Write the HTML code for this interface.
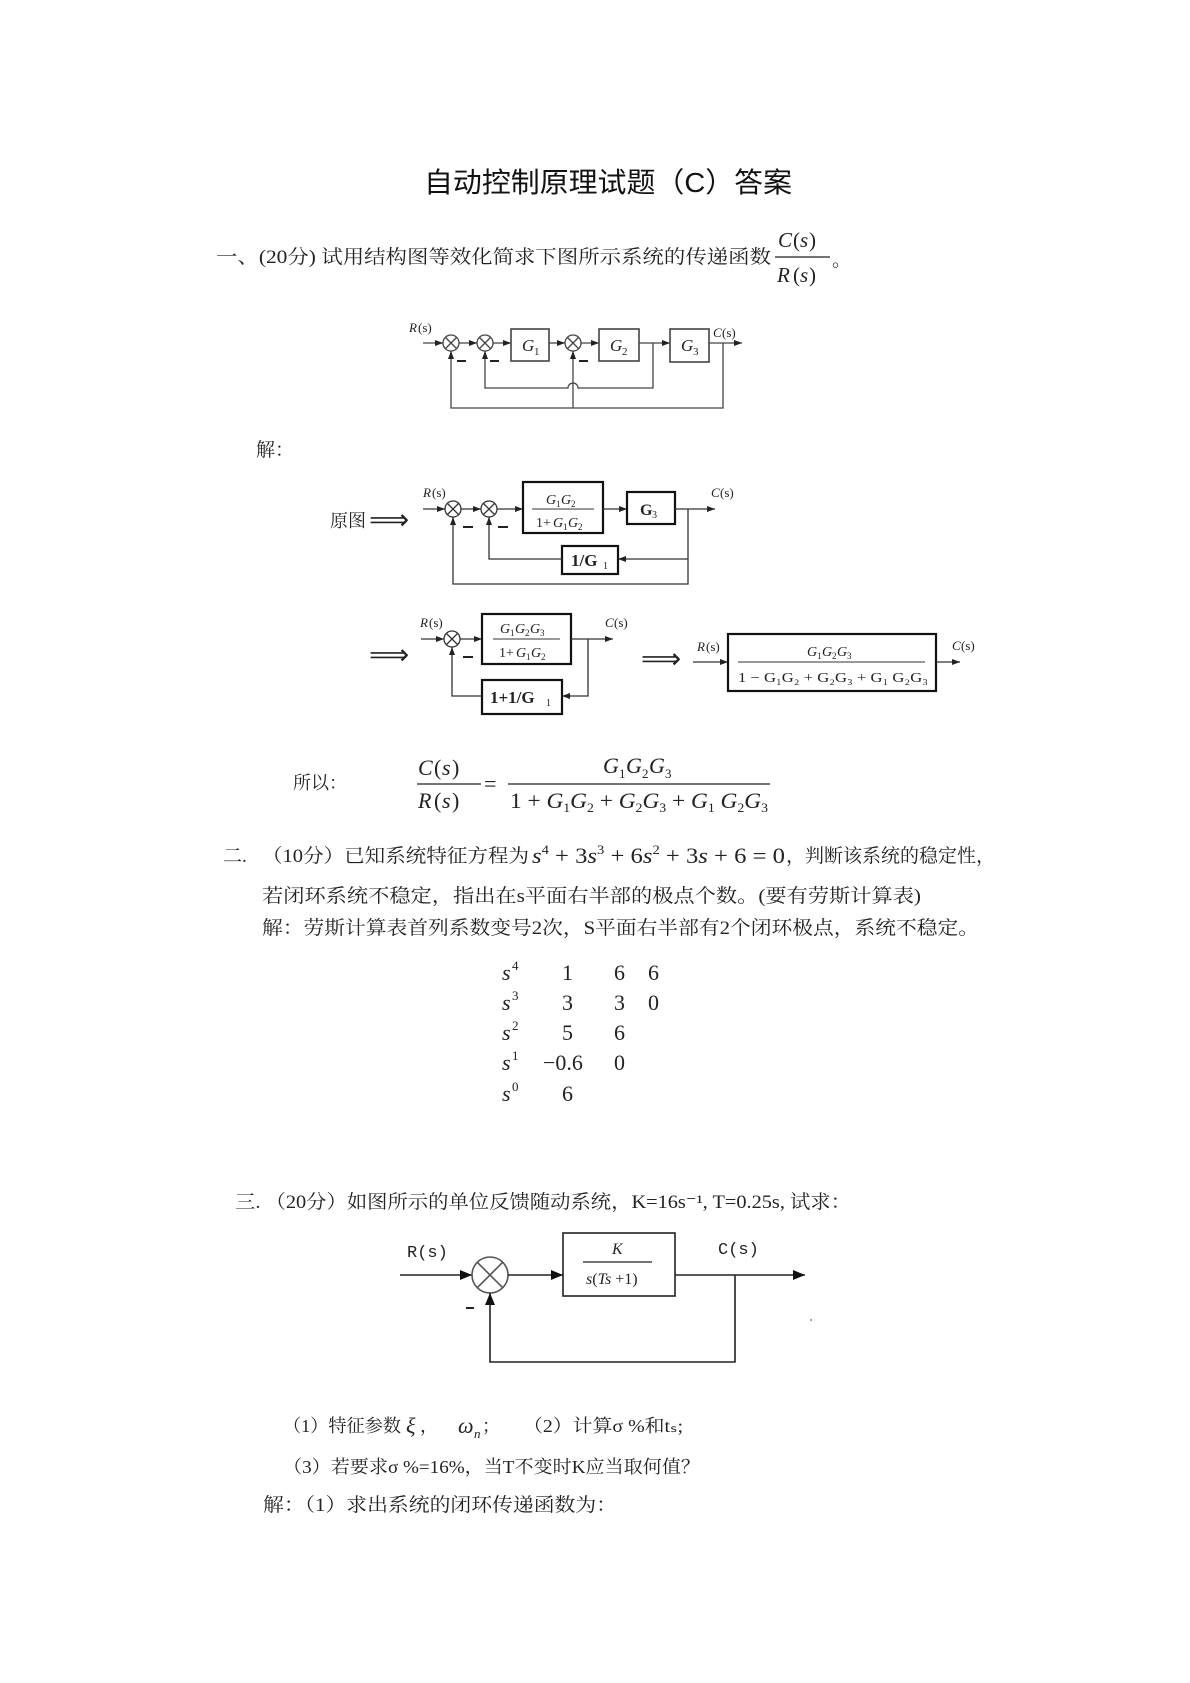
<!DOCTYPE html>
<html><head><meta charset="utf-8"><style>
html,body{margin:0;padding:0;background:#fff;}
svg{display:block;}
.t{font-family:"Liberation Serif","Noto Serif CJK SC",serif;fill:#222;}
.i{font-family:"Liberation Serif",serif;font-style:italic;fill:#222;}
.r{font-family:"Liberation Serif",serif;fill:#222;}
.m{font-family:"Liberation Mono","Noto Serif CJK SC",monospace;fill:#222;}
</style></head><body>
<svg width="1190" height="1683" viewBox="0 0 1190 1683" xmlns="http://www.w3.org/2000/svg">
<defs>
<marker id="a" markerWidth="8" markerHeight="6" refX="8" refY="3" orient="auto" markerUnits="userSpaceOnUse"><path d="M0,0 L8,3 L0,6 z" fill="#222"/></marker>
<marker id="b" markerWidth="12" markerHeight="10" refX="12" refY="5" orient="auto" markerUnits="userSpaceOnUse"><path d="M0,0 L12,5 L0,10 z" fill="#111"/></marker>
</defs>

<!-- Title -->
<text x="424" y="192" font-family="'Liberation Sans','Noto Sans CJK SC',sans-serif" font-size="28" fill="#111" textLength="368" lengthAdjust="spacingAndGlyphs">自动控制原理试题（C）答案</text>

<!-- Q1 -->
<text class="t" x="216" y="263" font-size="19" textLength="555" lengthAdjust="spacingAndGlyphs">一、(20分) 试用结构图等效化简求下图所示系统的传递函数</text>
<text class="i" x="778" y="247" font-size="21">C</text><text class="r" x="793" y="247" font-size="21">(</text><text class="i" x="800" y="247" font-size="21">s</text><text class="r" x="809" y="247" font-size="21">)</text>
<line x1="775" y1="257" x2="830" y2="257" stroke="#222" stroke-width="1.2"/>
<text class="i" x="777" y="282" font-size="21">R</text><text class="r" x="793" y="282" font-size="21">(</text><text class="i" x="800" y="282" font-size="21">s</text><text class="r" x="809" y="282" font-size="21">)</text>
<text class="t" x="832" y="266" font-size="19">。</text>

<!-- Diagram 1 -->
<g stroke="#444" stroke-width="1.3" fill="none">
<line x1="423" y1="343" x2="443" y2="343" marker-end="url(#a)"/>
<circle cx="451" cy="343" r="8"/><path d="M445.5,337.5 L456.5,348.5 M456.5,337.5 L445.5,348.5"/>
<line x1="459" y1="343" x2="477" y2="343" marker-end="url(#a)"/>
<circle cx="485" cy="343" r="8"/><path d="M479.5,337.5 L490.5,348.5 M490.5,337.5 L479.5,348.5"/>
<line x1="493" y1="343" x2="511" y2="343" marker-end="url(#a)"/>
<rect x="511" y="329" width="38" height="32" stroke-width="1.6"/>
<line x1="549" y1="343" x2="565" y2="343" marker-end="url(#a)"/>
<circle cx="573" cy="343" r="8"/><path d="M567.5,337.5 L578.5,348.5 M578.5,337.5 L567.5,348.5"/>
<line x1="581" y1="343" x2="599" y2="343" marker-end="url(#a)"/>
<rect x="599" y="329" width="40" height="32" stroke-width="1.6"/>
<line x1="639" y1="343" x2="670" y2="343" marker-end="url(#a)"/>
<rect x="670" y="329" width="39" height="33" stroke-width="1.6"/>
<line x1="709" y1="343" x2="742" y2="343" marker-end="url(#a)"/>
<path d="M653,343 L653,388 L578,388 A5,5 0 0 0 568,388 L485,388 L485,351" marker-end="url(#a)"/>
<path d="M723,343 L723,408 L451,408 L451,351" marker-end="url(#a)"/>
<path d="M573,408 L573,351" marker-end="url(#a)"/>
</g>
<g stroke="#222" stroke-width="2"><line x1="457" y1="361" x2="466" y2="361"/><line x1="490" y1="361" x2="499" y2="361"/><line x1="579" y1="361" x2="588" y2="361"/></g>
<text class="i" x="409" y="332" font-size="13">R</text><text class="r" x="418" y="332" font-size="13">(s)</text>
<text class="i" x="713" y="337" font-size="13">C</text><text class="r" x="722" y="337" font-size="13">(s)</text>
<text class="i" x="522" y="351" font-size="17">G</text><text class="r" x="534" y="355" font-size="11">1</text>
<text class="i" x="610" y="351" font-size="17">G</text><text class="r" x="622" y="355" font-size="11">2</text>
<text class="i" x="681" y="351" font-size="17">G</text><text class="r" x="693" y="355" font-size="11">3</text>

<text class="t" x="256" y="456" font-size="19">解：</text>

<!-- Diagram 2 row 1 -->
<text class="t" x="330" y="527" font-size="18">原图</text>
<text class="r" x="369" y="529" font-size="28">⟹</text>
<g stroke="#333" stroke-width="1.3" fill="none">
<line x1="423" y1="509" x2="445" y2="509" marker-end="url(#a)"/>
<circle cx="453" cy="509" r="8"/><path d="M447.5,503.5 L458.5,514.5 M458.5,503.5 L447.5,514.5"/>
<line x1="461" y1="509" x2="481" y2="509" marker-end="url(#a)"/>
<circle cx="489" cy="509" r="8"/><path d="M483.5,503.5 L494.5,514.5 M494.5,503.5 L483.5,514.5"/>
<line x1="497" y1="509" x2="523" y2="509" marker-end="url(#a)"/>
<rect x="523" y="482" width="80" height="51" stroke-width="2.2" stroke="#111"/>
<line x1="532" y1="509" x2="594" y2="509" stroke-width="1"/>
<line x1="603" y1="509" x2="627" y2="509" marker-end="url(#a)"/>
<rect x="627" y="492" width="48" height="32" stroke-width="2.2" stroke="#111"/>
<line x1="675" y1="509" x2="715" y2="509" marker-end="url(#a)"/>
<path d="M688,509 L688,559 L618,559" marker-end="url(#a)"/>
<rect x="562" y="546" width="56" height="28" stroke-width="2.2" stroke="#111"/>
<path d="M562,559 L489,559 L489,517" marker-end="url(#a)"/>
<path d="M688,559 L688,584 L453,584 L453,517" marker-end="url(#a)"/>
</g>
<g stroke="#222" stroke-width="2"><line x1="463" y1="527" x2="473" y2="527"/><line x1="498" y1="527" x2="508" y2="527"/></g>
<text class="i" x="423" y="497" font-size="13">R</text><text class="r" x="432" y="497" font-size="13">(s)</text>
<text class="i" x="711" y="497" font-size="13">C</text><text class="r" x="720" y="497" font-size="13">(s)</text>
<text class="i" x="546" y="504" font-size="14">G</text><text class="r" x="556" y="507" font-size="9">1</text><text class="i" x="561" y="504" font-size="14">G</text><text class="r" x="571" y="507" font-size="9">2</text>
<text class="r" x="536" y="527" font-size="14">1+</text><text class="i" x="553" y="527" font-size="14">G</text><text class="r" x="563" y="530" font-size="9">1</text><text class="i" x="568" y="527" font-size="14">G</text><text class="r" x="578" y="530" font-size="9">2</text>
<text class="r" x="640" y="515" font-size="16" font-weight="bold">G</text><text class="r" x="652" y="518" font-size="10">3</text>
<text class="r" x="571" y="566" font-size="17" font-weight="bold">1/G</text><text class="r" x="603" y="569" font-size="10">1</text>

<!-- Diagram 2 row 2 -->
<text class="r" x="369" y="664" font-size="28">⟹</text>
<g stroke="#333" stroke-width="1.3" fill="none">
<line x1="421" y1="639" x2="444" y2="639" marker-end="url(#a)"/>
<circle cx="452" cy="639" r="8"/><path d="M446.5,633.5 L457.5,644.5 M457.5,633.5 L446.5,644.5"/>
<line x1="460" y1="639" x2="482" y2="639" marker-end="url(#a)"/>
<rect x="482" y="614" width="89" height="50" stroke-width="2.2" stroke="#111"/>
<line x1="493" y1="639" x2="560" y2="639" stroke-width="1"/>
<line x1="571" y1="639" x2="613" y2="639" marker-end="url(#a)"/>
<path d="M588,639 L588,696 L562,696" marker-end="url(#a)"/>
<rect x="482" y="680" width="80" height="34" stroke-width="2.2" stroke="#111"/>
<path d="M482,696 L452,696 L452,647" marker-end="url(#a)"/>
</g>
<line x1="463" y1="657" x2="473" y2="657" stroke="#222" stroke-width="2"/>
<text class="i" x="420" y="627" font-size="13">R</text><text class="r" x="429" y="627" font-size="13">(s)</text>
<text class="i" x="605" y="627" font-size="13">C</text><text class="r" x="614" y="627" font-size="13">(s)</text>
<text class="i" x="500" y="633" font-size="14">G</text><text class="r" x="510" y="636" font-size="9">1</text><text class="i" x="515" y="633" font-size="14">G</text><text class="r" x="525" y="636" font-size="9">2</text><text class="i" x="530" y="633" font-size="14">G</text><text class="r" x="540" y="636" font-size="9">3</text>
<text class="r" x="499" y="657" font-size="14">1+</text><text class="i" x="516" y="657" font-size="14">G</text><text class="r" x="526" y="660" font-size="9">1</text><text class="i" x="531" y="657" font-size="14">G</text><text class="r" x="541" y="660" font-size="9">2</text>
<text class="r" x="490" y="703" font-size="17" font-weight="bold">1+1/G</text><text class="r" x="546" y="706" font-size="10">1</text>

<text class="r" x="641" y="668" font-size="28">⟹</text>
<g stroke="#333" stroke-width="1.3" fill="none">
<line x1="693" y1="662" x2="728" y2="662" marker-end="url(#a)"/>
<rect x="728" y="634" width="208" height="57" stroke-width="2.2" stroke="#111"/>
<line x1="738" y1="662" x2="925" y2="662" stroke-width="1"/>
<line x1="936" y1="662" x2="960" y2="662" marker-end="url(#a)"/>
</g>
<text class="i" x="697" y="651" font-size="13">R</text><text class="r" x="706" y="651" font-size="13">(s)</text>
<text class="i" x="952" y="650" font-size="13">C</text><text class="r" x="961" y="650" font-size="13">(s)</text>
<text class="i" x="807" y="656" font-size="14">G</text><text class="r" x="817" y="659" font-size="9">1</text><text class="i" x="822" y="656" font-size="14">G</text><text class="r" x="832" y="659" font-size="9">2</text><text class="i" x="837" y="656" font-size="14">G</text><text class="r" x="847" y="659" font-size="9">3</text>
<text class="r" x="738" y="682" font-size="14" textLength="190" lengthAdjust="spacingAndGlyphs">1 − G₁G₂ + G₂G₃ + G₁ G₂G₃</text>

<!-- Result formula -->
<text class="t" x="293" y="789" font-size="18">所以：</text>
<text class="i" x="418" y="775" font-size="22">C</text><text class="r" x="434" y="775" font-size="22">(</text><text class="i" x="442" y="775" font-size="22">s</text><text class="r" x="452" y="775" font-size="22">)</text>
<line x1="417" y1="784" x2="481" y2="784" stroke="#222" stroke-width="1.2"/>
<text class="i" x="418" y="808" font-size="22">R</text><text class="r" x="434" y="808" font-size="22">(</text><text class="i" x="442" y="808" font-size="22">s</text><text class="r" x="452" y="808" font-size="22">)</text>
<text class="r" x="484" y="791" font-size="22">=</text>
<line x1="508" y1="784" x2="770" y2="784" stroke="#222" stroke-width="1.2"/>
<text class="i" x="603" y="773" font-size="22">G</text><text class="r" x="619" y="778" font-size="13">1</text><text class="i" x="626" y="773" font-size="22">G</text><text class="r" x="642" y="778" font-size="13">2</text><text class="i" x="649" y="773" font-size="22">G</text><text class="r" x="665" y="778" font-size="13">3</text>
<text class="i" x="510" y="808" font-size="22" textLength="258" lengthAdjust="spacingAndGlyphs"><tspan font-style="normal">1 + </tspan>G<tspan font-style="normal" font-size="13" dy="4">1</tspan><tspan dy="-4">G</tspan><tspan font-style="normal" font-size="13" dy="4">2</tspan><tspan dy="-4" font-style="normal"> + </tspan>G<tspan font-style="normal" font-size="13" dy="4">2</tspan><tspan dy="-4">G</tspan><tspan font-style="normal" font-size="13" dy="4">3</tspan><tspan dy="-4" font-style="normal"> + </tspan>G<tspan font-style="normal" font-size="13" dy="4">1</tspan><tspan dy="-4"> G</tspan><tspan font-style="normal" font-size="13" dy="4">2</tspan><tspan dy="-4">G</tspan><tspan font-style="normal" font-size="13" dy="4">3</tspan></text>

<!-- Q2 -->
<text class="t" x="223" y="862" font-size="19">二.</text>
<text class="t" x="262" y="862" font-size="19" textLength="267" lengthAdjust="spacingAndGlyphs">（10分）已知系统特征方程为</text>
<text class="i" x="532" y="863" font-size="22" textLength="253" lengthAdjust="spacingAndGlyphs">s<tspan font-style="normal" font-size="13" dy="-9">4</tspan><tspan font-style="normal" dy="9"> + 3</tspan>s<tspan font-style="normal" font-size="13" dy="-9">3</tspan><tspan font-style="normal" dy="9"> + 6</tspan>s<tspan font-style="normal" font-size="13" dy="-9">2</tspan><tspan font-style="normal" dy="9"> + 3</tspan>s<tspan font-style="normal"> + 6 = 0</tspan></text>
<text class="t" x="786" y="862" font-size="19" textLength="209" lengthAdjust="spacingAndGlyphs">，判断该系统的稳定性，</text>
<text class="t" x="262" y="902" font-size="19" textLength="659" lengthAdjust="spacingAndGlyphs">若闭环系统不稳定，指出在s平面右半部的极点个数。(要有劳斯计算表)</text>
<text class="t" x="262" y="934" font-size="19" textLength="717" lengthAdjust="spacingAndGlyphs">解：劳斯计算表首列系数变号2次，S平面右半部有2个闭环极点，系统不稳定。</text>

<!-- Routh table -->
<g class="r" font-size="22">
<text class="i" x="502" y="980">s</text><text class="r" x="512" y="970" font-size="13">4</text>
<text class="i" x="502" y="1010">s</text><text class="r" x="512" y="1000" font-size="13">3</text>
<text class="i" x="502" y="1040">s</text><text class="r" x="512" y="1030" font-size="13">2</text>
<text class="i" x="502" y="1070">s</text><text class="r" x="512" y="1060" font-size="13">1</text>
<text class="i" x="502" y="1101">s</text><text class="r" x="512" y="1091" font-size="13">0</text>
<text x="562" y="980">1</text><text x="614" y="980">6</text><text x="648" y="980">6</text>
<text x="562" y="1010">3</text><text x="614" y="1010">3</text><text x="648" y="1010">0</text>
<text x="562" y="1040">5</text><text x="614" y="1040">6</text>
<text x="543" y="1070">−0.6</text><text x="614" y="1070">0</text>
<text x="562" y="1101">6</text>
</g>

<!-- Q3 -->
<text class="t" x="235" y="1208" font-size="19" textLength="616" lengthAdjust="spacingAndGlyphs">三. （20分）如图所示的单位反馈随动系统，K=16s⁻¹, T=0.25s, 试求：</text>
<g stroke="#222" stroke-width="1.6" fill="none">
<line x1="400" y1="1275" x2="472" y2="1275" marker-end="url(#b)"/>
<circle cx="490" cy="1275" r="18" stroke="#555"/>
<path d="M477.3,1262.3 L502.7,1287.7 M502.7,1262.3 L477.3,1287.7" stroke="#555"/>
<line x1="508" y1="1275" x2="563" y2="1275" marker-end="url(#b)"/>
<rect x="563" y="1241" width="112" height="63" stroke-width="1.6" transform="translate(0,-8)"/>
<line x1="583" y1="1262" x2="652" y2="1262" stroke-width="1.2"/>
<line x1="675" y1="1275" x2="805" y2="1275" marker-end="url(#b)"/>
<path d="M735,1275 L735,1362 L490,1362 L490,1293" marker-end="url(#b)"/>
</g>
<line x1="466" y1="1308" x2="474" y2="1308" stroke="#222" stroke-width="2"/>
<circle cx="811" cy="1320" r="1" fill="#888"/>
<text class="m" x="407" y="1257" font-size="17">R(s)</text>
<text class="m" x="718" y="1254" font-size="17">C(s)</text>
<text class="i" x="612" y="1254" font-size="16">K</text>
<text class="i" x="586" y="1284" font-size="16">s<tspan font-style="normal">(</tspan>Ts<tspan font-style="normal"> +1)</tspan></text>

<text class="t" x="283" y="1432" font-size="18" textLength="118" lengthAdjust="spacingAndGlyphs">（1）特征参数</text>
<text class="i" x="406" y="1433" font-size="22">ξ</text><text class="t" x="420" y="1432" font-size="18">，</text>
<text class="i" x="458" y="1433" font-size="22">ω</text><text class="i" x="474" y="1438" font-size="13">n</text><text class="t" x="482" y="1432" font-size="18">；</text>
<text class="t" x="523" y="1432" font-size="18" textLength="160" lengthAdjust="spacingAndGlyphs">（2）计算σ %和tₛ;</text>
<text class="t" x="283" y="1473" font-size="18" textLength="417" lengthAdjust="spacingAndGlyphs">（3）若要求σ %=16%，当T不变时K应当取何值？</text>
<text class="t" x="263" y="1511" font-size="19" textLength="354" lengthAdjust="spacingAndGlyphs">解：（1）求出系统的闭环传递函数为：</text>
</svg>
</body></html>
